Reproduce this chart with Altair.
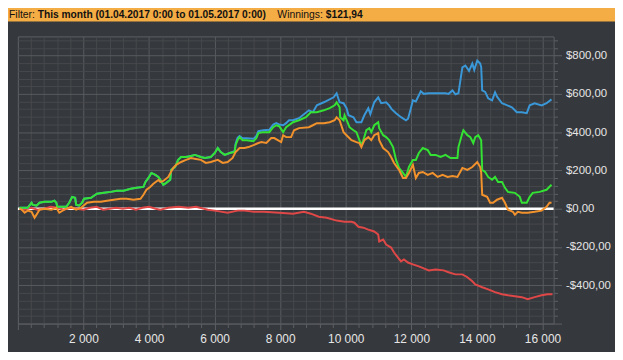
import altair as alt
import pandas as pd

# ---- data ----
green_x = [50,115,205,296,417,447,568,659,810,1021,1112,1172,1202,1323,1474,1565,1655,1746,1776,1867,1958,2018,2230,2320,2411,2622,2834,3015,3226,3438,3619,3830,3891,3982,4072,4193,4284,4344,4435,4525,4646,4676,4797,4888,4978,5129,5280,5401,5582,5703,5884,6005,6096,6187,6308,6459,6610,6640,6700,6761,6852,6973,7184,7275,7335,7486,7668,7789,7879,7970,8091,8181,8393,8574,8786,8937,9118,9329,9510,9661,9722,9812,9830,9933,9963,10054,10114,10235,10326,10416,10477,10537,10628,10718,10779,10869,10990,11020,11141,11232,11323,11443,11534,11625,11745,11836,11927,12048,12138,12229,12350,12501,12591,12742,12893,13044,13195,13407,13437,13558,13588,13709,13799,13890,13950,14041,14131,14162,14252,14343,14464,14554,14645,14766,14856,14947,15158,15309,15370,15521,15611,15702,15913,16125,16276]
green_y = [5,5,5,5,31,21,16,31,36,36,42,31,10,10,10,31,62,57,21,16,31,52,57,68,78,83,88,94,94,104,109,114,140,161,187,177,166,151,125,135,151,203,218,255,270,270,275,281,270,265,270,291,317,296,281,291,296,332,358,374,358,358,353,369,395,400,400,426,436,431,400,426,452,462,478,504,504,514,525,540,556,530,478,462,488,452,426,410,400,358,332,358,410,421,400,436,452,421,384,374,358,322,255,213,187,166,218,255,255,291,317,306,281,281,270,281,265,265,322,395,410,384,374,343,374,384,358,203,192,166,151,166,140,140,109,88,83,62,31,31,62,83,88,99,125]

blue_x = [50,115,205,296,417,447,568,659,810,1021,1112,1172,1202,1323,1474,1565,1655,1746,1776,1867,1958,2018,2230,2320,2411,2622,2834,3015,3226,3438,3619,3830,3891,3982,4072,4193,4284,4344,4435,4525,4646,4676,4797,4888,4978,5129,5280,5401,5582,5703,5884,6005,6096,6187,6308,6459,6610,6640,6700,6761,6852,6973,7184,7275,7335,7486,7668,7789,7879,7970,8091,8181,8272,8393,8574,8876,8997,9118,9329,9631,9722,9812,9933,10024,10084,10235,10326,10477,10567,10688,10750,10869,10990,11081,11232,11323,11400,11534,11685,11836,11900,11987,12048,12138,12289,12380,12531,13044,13135,13256,13346,13437,13497,13558,13648,13760,13860,13920,14011,14101,14131,14162,14252,14343,14464,14554,14615,14766,14856,15068,15219,15370,15521,15611,15762,15974,16125,16276]
blue_y = [5,5,5,5,31,21,16,31,36,36,42,31,10,10,10,31,62,57,21,16,31,52,57,68,78,83,88,94,94,104,109,114,140,161,187,177,166,151,125,135,151,203,218,255,270,270,275,281,270,265,270,291,317,296,281,291,300,340,370,380,368,368,365,380,405,410,412,440,447,440,436,447,462,462,473,514,504,540,556,582,603,556,551,525,488,478,452,452,488,525,494,556,582,551,556,540,520,499,478,462,470,525,566,560,613,600,603,603,600,618,598,603,670,738,748,720,758,725,774,758,740,618,610,577,566,608,585,551,545,530,504,504,499,540,551,540,551,571]

orange_x = [50,115,205,296,417,508,568,659,810,1021,1172,1263,1414,1625,1776,1927,2109,2320,2532,2713,2920,3136,3317,3528,3740,3830,3921,4042,4133,4284,4344,4435,4586,4737,4827,4978,5129,5280,5431,5582,5733,5884,6096,6247,6398,6549,6640,6761,6912,7033,7184,7335,7426,7577,7728,7819,8030,8091,8181,8333,8423,8574,8876,8997,9118,9329,9510,9661,9722,9812,9933,10024,10175,10326,10416,10477,10567,10688,10779,10869,10990,11020,11141,11292,11383,11474,11625,11745,11836,11927,12048,12138,12229,12350,12501,12652,12803,12954,13105,13256,13407,13558,13709,13860,14011,14101,14131,14162,14313,14403,14494,14615,14766,14856,14947,15098,15158,15249,15370,15551,15762,15974,16125,16215,16276]
orange_y = [0,-5,-21,-10,-16,-47,-31,-5,0,-5,5,-21,-5,10,-5,5,31,36,36,42,47,52,52,47,52,73,99,115,130,150,140,145,166,213,229,244,255,265,260,255,239,244,255,239,244,265,296,317,317,322,332,343,348,343,369,369,348,384,374,374,410,421,426,436,447,447,452,462,478,462,400,384,358,348,343,322,358,374,358,384,395,358,317,296,270,239,203,161,161,187,229,160,187,192,177,187,166,177,166,171,166,213,203,218,244,218,190,73,62,31,31,47,57,31,-5,-16,-31,-16,-21,-21,-16,-10,10,31,31]

red_x = [50,200,400,600,800,1000,1200,1400,1600,1800,2000,2200,2400,2600,2800,3000,3200,3400,3600,3800,4000,4200,4344,4586,4900,5200,5431,5794,6000,6398,6700,6912,7200,7500,7970,8393,8725,8937,9178,9420,9722,9963,10175,10265,10386,10537,10688,10869,10990,11020,11141,11232,11383,11474,11594,11685,11776,11897,12048,12229,12380,12531,12742,12984,13135,13346,13558,13709,13860,13950,14162,14343,14554,14766,14947,15158,15370,15551,15762,15974,16155,16306]
red_y = [0,-5,5,-5,0,10,5,-5,5,0,-5,5,10,-5,0,5,0,5,-5,5,10,0,-5,5,10,5,10,-5,-10,-21,-10,-10,-16,-16,-21,-26,-16,-26,-42,-47,-62,-68,-68,-73,-94,-99,-109,-119,-135,-171,-161,-187,-203,-229,-255,-275,-265,-281,-291,-301,-312,-322,-317,-322,-332,-343,-343,-358,-379,-395,-410,-421,-436,-447,-452,-457,-462,-473,-462,-452,-447,-447]

x_minor = list(range(0, 16001, 400))
y_minor = list(range(-600, 881, 40))

# ---- style ----
BG = "#35383c"
W, H = 541, 290

xaxis = alt.Axis(
    values=x_minor, title=None, grid=True, domain=False, labelOverlap=False,
    gridColor={"condition": {"test": "datum.value % 2000 === 0", "value": "#585b5f"}, "value": "#46494d"},
    tickColor="#5d6064",
    tickSize={"condition": {"test": "datum.value % 2000 === 0", "value": 6}, "value": 4},
    labelExpr="datum.value % 2000 === 0 && datum.value > 0 ? replace(format(datum.value, ','), ',', ' ') : ''",
    labelColor="#e6e6e6", labelFont="Liberation Sans", labelFontSize=12, labelPadding=4,
)
yaxis = alt.Axis(
    values=y_minor, orient="right", title=None, grid=True, domain=False, labelOverlap=False,
    gridColor={"condition": {"test": "datum.value % 200 === 0", "value": "#585b5f"}, "value": "#46494d"},
    tickColor="#5d6064",
    tickSize={"condition": {"test": "datum.value % 200 === 0", "value": 8}, "value": 4},
    labelExpr="datum.value % 200 === 0 && datum.value > -600 ? (datum.value < 0 ? '-' : '') + '$' + format(abs(datum.value), 'd') + ',00' : ''",
    labelColor="#e6e6e6", labelFont="Liberation Sans", labelFontSize=11.5, labelPadding=4,
)
xs = alt.Scale(domain=[0, 16340], nice=False)
ys = alt.Scale(domain=[-600, 900], nice=False)


def series(xv, yv, color):
    df = pd.DataFrame({"hands": xv, "val": yv})
    return alt.Chart(df).mark_line(color=color, strokeWidth=2, strokeJoin="miter").encode(
        x=alt.X("hands:Q", scale=xs, axis=xaxis),
        y=alt.Y("val:Q", scale=ys, axis=yaxis),
    )


one = pd.DataFrame({"k": [0]})
header = alt.Chart(one).mark_rect(color="#f4ac45").encode(
    x=alt.value(-18), x2=alt.value(605), y=alt.value(-35), y2=alt.value(-15)
)


def htext(txt, px, bold):
    return alt.Chart(one).mark_text(
        text=txt, align="left", baseline="alphabetic", font="Liberation Sans",
        fontSize=10.5 if not bold else 10.3, fontWeight="bold" if bold else "normal", color="#111111",
    ).encode(x=alt.value(px - 18), y=alt.value(-19))


zero = alt.Chart(pd.DataFrame({"val": [0]})).mark_rule(color="#ffffff", strokeWidth=2.5).encode(
    y=alt.Y("val:Q", scale=ys, axis=yaxis)
)

chart = alt.layer(
    header,
    htext("Filter:", 9, False),
    htext("This month (01.04.2017 0:00 to 01.05.2017 0:00)", 38, True),
    htext("Winnings:", 280, False),
    htext("$121,94", 329, True),
    zero,
    series(red_x, red_y, "#e04848"),
    series(blue_x, blue_y, "#3a98d8"),
    series(green_x, green_y, "#34e234"),
    series(orange_x, orange_y, "#f2922c"),
).properties(
    width=W, height=H, background=BG,
    autosize=alt.AutoSizeParams(type="none"),
    padding={"left": 10, "top": 27, "right": 62, "bottom": 27},
).configure_view(stroke="#5d6064", strokeWidth=1, fill=BG)

chart.save("out.html", embed_options={"renderer": "svg", "actions": False})
